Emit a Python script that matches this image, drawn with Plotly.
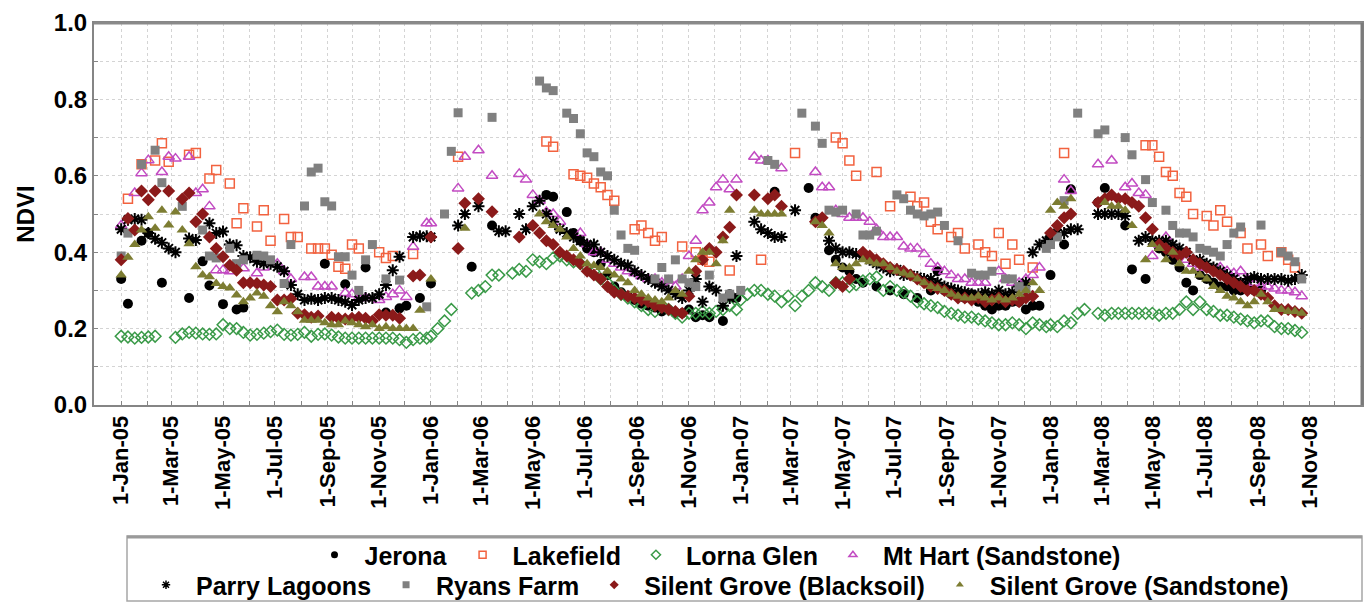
import pandas as pd
import plotly.graph_objects as go

N = None
YEARS = [2005, 2006, 2007, 2008]
STEP_DAYS = 8  # 8-day composites starting 1 Jan each year

JERONA = [
    [0.33, 0.265, N, 0.43, 0.45, N, 0.32, N, N, N,
     0.28, N, 0.376, 0.313, N, 0.264, N, 0.25, 0.255, N,
     N, N, N, N, N, N, N, N, N, N,
     0.37, N, N, 0.316, N, N, 0.36, N, N, 0.242,
     N, 0.253, 0.26, N, 0.28, N],
    [0.318, N, N, N, N, N, 0.362, N, N, 0.47,
     N, N, N, N, N, N, N, 0.55, 0.545, N,
     0.505, 0.45, 0.43, 0.41, 0.40, 0.37, 0.34, 0.31, 0.295, 0.285,
     0.275, 0.265, 0.26, 0.255, 0.245, 0.25, 0.24, 0.24, 0.25, 0.23,
     0.235, 0.23, N, 0.22, 0.29, 0.28],
    [N, N, N, N, N, 0.558, N, N, N, N,
     0.568, 0.49, N, 0.405, 0.38, 0.36, 0.35, 0.33, 0.32, N,
     0.31, N, 0.30, N, 0.29, N, 0.28, N, 0.30, 0.35,
     0.30, 0.29, 0.29, 0.28, 0.29, 0.27, 0.26, 0.25, 0.26, 0.26,
     0.27, 0.27, 0.25, 0.26, 0.26, N],
    [0.34, N, 0.42, 0.565, N, N, N, 0.53, 0.568, N,
     N, 0.47, 0.355, N, 0.33, N, 0.41, 0.40, 0.38, 0.36,
     0.32, 0.30, 0.34, 0.33, 0.32, 0.31, 0.31, 0.30, 0.30, 0.31,
     0.30, 0.30],
]

LAKEFIELD = [
    [N, 0.54, N, 0.63, N, 0.64, 0.685, 0.637, N, N,
     0.655, 0.66, N, 0.593, 0.615, N, 0.58, 0.476, 0.515, N,
     0.467, 0.51, 0.43, N, 0.487, 0.44, 0.44, N, 0.41, 0.41,
     0.41, 0.393, 0.362, 0.357, 0.42, 0.41, N, N, 0.40, 0.385,
     0.39, N, N, 0.395, N, N],
    [N, N, N, N, 0.65, N, N, N, N, N,
     N, N, N, N, N, N, N, 0.69, 0.676, N,
     N, 0.604, 0.60, 0.595, 0.58, 0.57, 0.55, 0.535, N, N,
     0.46, 0.47, 0.45, 0.43, 0.44, N, N, 0.415, N, 0.40,
     0.38, 0.375, N, N, 0.352, N],
    [N, N, N, 0.38, N, N, N, N, 0.66, N,
     N, N, N, N, 0.70, 0.685, 0.64, 0.60, N, N,
     0.61, N, 0.52, N, N, 0.545, 0.52, 0.53, 0.48, 0.46,
     N, 0.44, 0.45, 0.41, N, 0.42, 0.40, 0.39, 0.45, 0.37,
     0.42, 0.38, N, 0.36, N, N],
    [N, N, 0.66, N, N, N, N, N, N, N,
     N, N, N, N, 0.68, 0.68, 0.65, 0.61, 0.60, 0.555,
     0.545, 0.50, N, 0.495, 0.47, 0.51, 0.48, N, 0.45, 0.41,
     N, 0.42, 0.39, N, 0.40, 0.38, 0.36],
]

LORNA_GLEN = [
    [0.18, 0.178, 0.175, 0.177, 0.178, 0.18, N, N, 0.177, 0.186,
     0.19, 0.188, 0.186, 0.185, 0.186, 0.21, 0.20, 0.20, 0.19, 0.183,
     0.185, 0.188, 0.192, 0.196, 0.185, 0.183, 0.185, 0.19, 0.18, 0.185,
     0.186, 0.183, 0.178, 0.175, 0.175, 0.175, 0.175, 0.175, 0.175, 0.175,
     0.175, 0.171, 0.164, 0.171, 0.175, 0.175],
    [0.18, 0.20, 0.22, 0.25, N, N, 0.293, 0.30, 0.31, 0.34,
     0.34, N, 0.345, 0.355, 0.35, 0.38, 0.375, 0.37, 0.385, 0.39,
     0.38, 0.375, 0.37, 0.36, 0.35, 0.33, 0.32, 0.30, 0.29, 0.28,
     0.27, 0.26, 0.25, 0.245, 0.26, 0.25, 0.24, 0.23, 0.24, 0.24,
     0.245, 0.24, 0.245, 0.25, 0.26, 0.25],
    [0.275, 0.29, 0.30, 0.30, 0.29, 0.285, 0.27, 0.285, 0.26, 0.285,
     0.30, 0.32, 0.31, 0.30, 0.32, 0.32, 0.31, 0.315, 0.325, 0.33,
     0.335, 0.30, 0.31, 0.30, 0.295, 0.285, 0.27, 0.265, 0.26, 0.255,
     0.245, 0.24, 0.235, 0.23, 0.23, 0.225, 0.22, 0.215, 0.21, 0.21,
     0.215, 0.21, 0.20, 0.215, 0.21, 0.205],
    [0.21, 0.205, 0.22, 0.215, 0.24, 0.25, N, 0.24, 0.235, 0.24,
     0.24, 0.24, 0.24, 0.24, 0.24, 0.24, 0.235, 0.24, 0.24, 0.25,
     0.27, 0.25, 0.27, 0.25, 0.245, 0.235, 0.235, 0.23, 0.225, 0.22,
     0.215, 0.22, 0.22, 0.205, 0.20, 0.20, 0.195, 0.19],
]

MT_HART = [
    [0.47, N, 0.555, 0.607, 0.641, N, 0.61, 0.65, 0.645, N,
     0.65, 0.555, 0.565, 0.52, 0.353, 0.353, 0.35, N, 0.358, N,
     0.345, 0.36, N, 0.37, 0.35, 0.33, N, 0.335, 0.335, 0.31,
     0.31, 0.31, N, 0.293, 0.29, 0.28, 0.28, N, 0.275, 0.283,
     0.29, 0.30, 0.283, 0.414, N, 0.476],
    [0.476, N, N, N, 0.567, 0.65, N, 0.667, N, 0.60,
     N, N, N, 0.605, 0.59, 0.55, 0.535, 0.505, 0.50, 0.48,
     N, N, 0.45, 0.42, 0.40, 0.40, 0.38, 0.37, 0.36, 0.35,
     0.345, 0.337, 0.33, 0.33, 0.32, 0.325, 0.31, 0.33, 0.39, 0.43,
     0.51, 0.53, 0.57, 0.59, 0.565, 0.59],
    [N, N, 0.65, 0.64, 0.64, N, 0.62, N, N, N,
     N, 0.61, 0.57, 0.57, 0.51, 0.50, 0.49, 0.49, 0.49, 0.48,
     0.46, 0.44, 0.44, 0.44, 0.415, 0.41, 0.41, 0.395, 0.37, 0.36,
     0.35, 0.34, 0.33, 0.33, 0.32, 0.32, 0.32, N, 0.35, 0.33,
     0.32, 0.32, 0.33, 0.34, 0.36, N],
    [N, N, 0.59, 0.56, N, N, N, 0.63, N, 0.64,
     N, 0.57, 0.58, 0.555, 0.55, 0.39, 0.42, 0.44, 0.41, 0.40,
     0.38, 0.37, 0.36, 0.36, 0.355, 0.36, 0.35, 0.345, 0.35, 0.33,
     0.32, 0.31, 0.31, 0.305, 0.30, 0.30, 0.295, 0.285],
]

PARRY_LAGOONS = [
    [0.46, 0.485, 0.487, 0.485, 0.45, 0.435, 0.425, 0.41, 0.40, N,
     0.436, 0.432, N, 0.476, 0.45, 0.454, 0.42, 0.418, 0.39, 0.387,
     0.375, 0.37, 0.37, 0.362, 0.35, 0.314, 0.29, 0.275, 0.278, 0.275,
     0.28, 0.28, 0.275, 0.27, 0.262, 0.275, 0.28, 0.28, 0.29, 0.314,
     0.353, 0.388, N, 0.44, 0.442, 0.442],
    [0.44, N, N, N, 0.47, 0.50, N, 0.52, N, N,
     0.455, 0.455, N, 0.50, 0.46, 0.52, 0.535, 0.50, 0.48, 0.46,
     0.45, 0.44, 0.43, 0.42, 0.42, 0.40, 0.39, 0.38, 0.37, 0.365,
     0.35, 0.34, 0.33, 0.32, 0.31, 0.30, 0.29, 0.28, 0.30, 0.33,
     0.27, 0.31, 0.30, 0.26, 0.28, 0.39],
    [N, N, 0.48, 0.46, 0.45, 0.44, 0.44, N, 0.51, N,
     N, N, N, 0.43, 0.41, 0.40, 0.40, 0.395, 0.39, 0.38,
     0.37, 0.36, 0.35, 0.355, 0.34, 0.34, 0.335, 0.33, 0.33, 0.32,
     0.31, 0.305, 0.30, 0.295, 0.29, 0.29, 0.295, 0.29, 0.30, 0.29,
     0.295, 0.31, 0.32, 0.40, 0.42, 0.43],
    [0.44, 0.45, 0.45, 0.46, 0.46, N, N, 0.50, 0.50, 0.50,
     0.50, 0.495, N, 0.43, 0.44, 0.43, 0.43, 0.43, 0.42, 0.41,
     0.40, 0.38, 0.38, 0.37, 0.36, 0.35, 0.34, 0.33, 0.32, 0.33,
     0.335, 0.33, 0.33, 0.33, 0.33, 0.325, 0.33, 0.34],
]

RYANS_FARM = [
    [0.39, 0.45, N, 0.63, N, 0.667, 0.582, N, N, 0.52,
     N, N, 0.458, 0.39, 0.385, N, 0.41, 0.37, 0.38, N,
     0.392, 0.39, 0.38, N, 0.318, 0.42, N, 0.521, 0.61, 0.62,
     0.532, 0.521, 0.388, 0.388, 0.34, 0.30, 0.38, 0.42, N, 0.33,
     N, 0.327, N, N, N, 0.257],
    [N, N, 0.50, 0.664, 0.765, N, N, N, N, 0.753,
     N, N, N, N, N, N, 0.848, 0.83, 0.823, N,
     0.764, 0.75, 0.71, 0.66, 0.65, 0.61, 0.60, 0.51, 0.445, 0.41,
     0.405, N, N, 0.33, 0.36, 0.33, 0.38, 0.33, 0.32, 0.31,
     N, 0.34, N, 0.28, 0.29, N],
    [0.30, N, N, N, 0.64, 0.63, N, N, N, 0.764,
     N, 0.73, 0.685, 0.51, 0.505, 0.51, N, 0.50, 0.445, 0.445,
     0.455, N, N, 0.55, 0.54, 0.51, 0.50, 0.495, 0.50, 0.505,
     0.47, N, 0.43, N, 0.345, 0.34, 0.34, 0.35, N, 0.33,
     0.33, 0.31, 0.30, N, N, 0.41],
    [0.42, 0.44, 0.535, N, 0.764, N, N, 0.71, 0.72, N,
     N, 0.70, 0.655, N, 0.59, 0.53, N, 0.51, 0.47, 0.45,
     0.45, 0.44, 0.41, 0.405, 0.40, 0.39, 0.42, 0.45, 0.466, N,
     N, 0.471, N, N, 0.40, 0.39, 0.375, 0.33],
]

SILENT_GROVE_BLACKSOIL = [
    [0.38, 0.488, 0.458, 0.56, 0.537, 0.56, N, 0.56, N, 0.539,
     0.555, 0.48, 0.50, 0.44, 0.41, 0.388, 0.366, 0.353, 0.32, 0.32,
     0.318, 0.314, 0.31, 0.275, 0.275, 0.278, 0.24, 0.236, 0.23, 0.233,
     N, 0.23, 0.227, 0.225, 0.227, 0.23, 0.227, 0.22, 0.236, 0.235,
     0.235, 0.227, N, 0.338, 0.34, N],
    [0.44, N, N, N, 0.41, 0.528, N, 0.54, N, 0.506,
     N, N, N, 0.44, N, 0.47, 0.45, 0.43, 0.42, 0.40,
     0.39, 0.38, 0.37, 0.35, 0.34, 0.33, 0.31, 0.295, 0.29, 0.285,
     0.28, 0.275, 0.27, 0.26, 0.255, 0.25, 0.245, 0.24, 0.285, 0.35,
     0.38, 0.41, 0.40, 0.44, 0.465, 0.55],
    [N, N, 0.55, N, 0.54, 0.55, 0.52, N, N, N,
     N, 0.48, 0.49, N, 0.32, 0.31, 0.33, N, 0.40, 0.39,
     0.38, 0.37, 0.36, 0.355, 0.35, 0.34, 0.33, 0.32, 0.31, 0.305,
     0.30, 0.29, 0.28, 0.28, 0.275, 0.28, 0.27, 0.275, 0.28, 0.27,
     0.275, 0.27, 0.28, 0.285, N, N],
    [0.45, 0.47, 0.49, 0.50, N, N, N, 0.53, 0.54, 0.55,
     0.54, 0.54, 0.53, 0.52, 0.49, 0.46, 0.42, 0.41, 0.40, 0.39,
     0.40, 0.38, 0.37, 0.36, 0.35, 0.34, 0.33, 0.32, 0.31, 0.30,
     0.30, 0.29, 0.28, 0.26, 0.25, 0.25, 0.245, 0.24],
]

SILENT_GROVE_SANDSTONE = [
    [0.34, 0.387, 0.42, 0.458, 0.493, 0.463, 0.51, 0.471, 0.505, 0.458,
     0.422, 0.362, 0.34, 0.336, 0.318, 0.31, 0.306, 0.288, 0.27, 0.28,
     0.293, 0.285, 0.26, 0.244, 0.27, 0.26, 0.244, 0.222, 0.222, 0.222,
     0.215, 0.21, 0.21, 0.22, 0.215, 0.21, 0.205, 0.21, 0.20, 0.205,
     0.20, 0.20, 0.20, 0.20, 0.248, N],
    [0.33, N, N, N, N, 0.463, N, N, N, N,
     N, N, N, N, N, N, 0.50, 0.48, 0.47, 0.46,
     0.44, 0.41, 0.39, 0.37, 0.365, 0.36, 0.35, 0.34, 0.33, 0.32,
     0.30, 0.29, 0.28, 0.275, 0.27, 0.28, 0.30, 0.29, 0.35, 0.38,
     0.40, 0.40, 0.37, 0.43, 0.51, N],
    [N, N, 0.51, 0.50, 0.50, 0.50, 0.50, N, N, N,
     N, 0.48, 0.47, 0.45, 0.37, 0.36, 0.36, 0.37, 0.38, 0.375,
     0.37, 0.37, 0.36, 0.35, 0.345, 0.34, 0.33, 0.32, 0.31, 0.305,
     0.30, 0.29, 0.285, 0.28, 0.28, 0.285, 0.28, 0.275, 0.28, 0.275,
     0.28, 0.29, 0.30, 0.32, 0.30, N],
    [0.51, 0.53, 0.52, 0.54, N, N, N, N, 0.53, 0.52,
     0.52, 0.51, 0.47, N, 0.38, 0.42, 0.41, 0.38, 0.40, 0.37,
     0.35, 0.35, 0.34, 0.33, 0.31, 0.30, 0.285, 0.28, 0.27, 0.26,
     0.27, 0.29, 0.27, 0.25, 0.25, 0.245, 0.245, 0.24],
]

SERIES_NAMES = ["Jerona", "Lakefield", "Lorna Glen", "Mt Hart (Sandstone)",
                "Parry Lagoons", "Ryans Farm", "Silent Grove (Blacksoil)",
                "Silent Grove (Sandstone)"]
SERIES_DATA = [JERONA, LAKEFIELD, LORNA_GLEN, MT_HART, PARRY_LAGOONS,
               RYANS_FARM, SILENT_GROVE_BLACKSOIL, SILENT_GROVE_SANDSTONE]

TICK_DATES = ["2005-01-01", "2005-03-01", "2005-05-01", "2005-07-01", "2005-09-01", "2005-11-01",
              "2006-01-01", "2006-03-01", "2006-05-01", "2006-07-01", "2006-09-01", "2006-11-01",
              "2007-01-01", "2007-03-01", "2007-05-01", "2007-07-01", "2007-09-01", "2007-11-01",
              "2008-01-01", "2008-03-01", "2008-05-01", "2008-07-01", "2008-09-01", "2008-11-01"]
TICK_LABELS = ["1-Jan-05", "1-Mar-05", "1-May-05", "1-Jul-05", "1-Sep-05", "1-Nov-05",
               "1-Jan-06", "1-Mar-06", "1-May-06", "1-Jul-06", "1-Sep-06", "1-Nov-06",
               "1-Jan-07", "1-Mar-07", "1-May-07", "1-Jul-07", "1-Sep-07", "1-Nov-07",
               "1-Jan-08", "1-Mar-08", "1-May-08", "1-Jul-08", "1-Sep-08", "1-Nov-08"]
Y_TICKS = [0.0, 0.2, 0.4, 0.6, 0.8, 1.0]
Y_LABELS = ["0.0", "0.2", "0.4", "0.6", "0.8", "1.0"]

STYLES = [
    dict(symbol="circle", size=10, color="#000000", lw=0),
    dict(symbol="square-open", size=9, color="#F2623F", lw=1.5),
    dict(symbol="diamond-open", size=9, color="#3A9A48", lw=1.5),
    dict(symbol="triangle-up-open", size=10, color="#C24BC2", lw=1.5),
    dict(symbol="asterisk-open", size=10, color="#000000", lw=2),
    dict(symbol="square", size=9, color="#808080", lw=0),
    dict(symbol="diamond", size=10, color="#8B1A1A", lw=0),
    dict(symbol="triangle-up", size=10, color="#7D7D32", lw=0),
]

FONT = "Liberation Sans"


def series_xy(per_year):
    xs, ys = [], []
    for year, vals in zip(YEARS, per_year):
        start = pd.Timestamp(year=year, month=1, day=1)
        for k, v in enumerate(vals):
            xs.append(start + pd.Timedelta(days=STEP_DAYS * k))
            ys.append(v)
    return xs, ys


fig = go.Figure()
for name, data, st in zip(SERIES_NAMES, SERIES_DATA, STYLES):
    xs, ys = series_xy(data)
    fig.add_trace(go.Scatter(
        x=xs, y=ys, mode="markers", name=name, showlegend=False,
        marker=dict(symbol=st["symbol"], size=st["size"], color=st["color"],
                    line=dict(width=st["lw"], color=st["color"])),
    ))

# legend entries (smaller symbols, two centred rows)
for i, (name, st) in enumerate(zip(SERIES_NAMES, STYLES)):
    fig.add_trace(go.Scatter(
        x=[None], y=[None], mode="markers", name=name,
        legend="legend" if i < 4 else "legend2",
        marker=dict(symbol=st["symbol"], size=7, color=st["color"],
                    line=dict(width=min(st["lw"], 1.5), color=st["color"])),
    ))

L, R, T, B = 94, 10, 23, 197
W, H = 1372, 602
PW, PH = W - L - R, H - T - B


def px_x(p):
    return (p - L) / PW


def px_y(p):
    return (H - B - p) / PH


minor_x = [d.strftime("%Y-%m-%d") for d in pd.date_range("2004-12-01", "2009-01-01", freq="MS")]
grid_col = "#d4d4d4"
frame_col = "#858585"

legend_common = dict(
    orientation="h", xanchor="center", yanchor="middle",
    font=dict(family=FONT, size=25, color="black", weight="bold"),
    bgcolor="rgba(0,0,0,0)", itemwidth=50, traceorder="normal",
)

fig.update_layout(
    width=W, height=H,
    margin=dict(l=L, r=R, t=T, b=B, autoexpand=False),
    paper_bgcolor="white", plot_bgcolor="white",
    font=dict(family=FONT, color="black"),
    xaxis=dict(
        type="date", range=["2004-11-30", "2009-01-02"],
        tickmode="array", tickvals=TICK_DATES, ticktext=TICK_LABELS,
        tickangle=-90, tickfont=dict(family=FONT, size=22, color="black", weight="bold"),
        ticks="inside", ticklen=4, tickcolor=frame_col,
        showgrid=True, gridcolor=grid_col, griddash="dot", gridwidth=1,
        minor=dict(tickmode="array", tickvals=minor_x, showgrid=True, gridcolor=grid_col,
                   griddash="dot", ticks="inside", ticklen=4, tickcolor=frame_col),
        showline=True, mirror=True, linecolor=frame_col, linewidth=2,
        zeroline=False, automargin=False,
    ),
    yaxis=dict(
        range=[0, 1], tickmode="array", tickvals=Y_TICKS, ticktext=Y_LABELS,
        tickfont=dict(family=FONT, size=24, color="black", weight="bold"),
        ticks="inside", ticklen=4, tickcolor=frame_col,
        showgrid=True, gridcolor=grid_col, griddash="dot", gridwidth=1,
        minor=dict(dtick=0.1, showgrid=True, gridcolor=grid_col, griddash="dot",
                   ticks="inside", ticklen=4, tickcolor=frame_col),
        showline=True, mirror=True, linecolor=frame_col, linewidth=2,
        zeroline=False, automargin=False,
        title=dict(text="NDVI", font=dict(family=FONT, size=24, color="black", weight="bold"),
                   standoff=12),
    ),
    legend=dict(x=px_x(715), y=px_y(555), **legend_common),
    legend2=dict(x=px_x(715), y=px_y(585), **legend_common),
    shapes=[
        dict(type="rect", xref="paper", yref="paper",
             x0=px_x(127), x1=px_x(1362), y0=px_y(536), y1=px_y(601),
             line=dict(color="#a6a6a6", width=1.5), fillcolor="white", layer="below"),
        dict(type="line", xref="paper", yref="paper",
             x0=px_x(127), x1=px_x(1362), y0=px_y(537), y1=px_y(537),
             line=dict(color="#9a9a9a", width=3)),
        # slightly heavier top and right frame edges as in the reference
        dict(type="line", xref="paper", yref="paper", x0=0, x1=1, y0=1, y1=1,
             line=dict(color="#8a8a8a", width=3)),
        dict(type="line", xref="paper", yref="paper", x0=1, x1=1, y0=0, y1=1,
             line=dict(color="#7a7a7a", width=3)),
    ],
)

fig.write_html("out.html")
